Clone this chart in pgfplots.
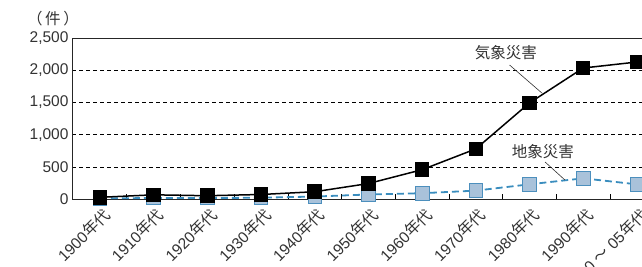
\documentclass[border=0pt]{standalone}
\usepackage{fontspec}
\setmainfont{Liberation Sans}
\newfontfamily\jp{Noto Sans CJK JP}
\usepackage{pgfplots}
\pgfplotsset{compat=1.18}
\definecolor{txt}{HTML}{333333}
\definecolor{bline}{HTML}{3A8DBE}
\definecolor{bfill}{HTML}{A9C2DA}
\definecolor{bedge}{HTML}{4C8FBD}
\begin{document}
\begin{tikzpicture}[font=\fontsize{15.5}{18}\selectfont]
\useasboundingbox (0,0) rectangle (642pt,266pt);
\clip (0,0) rectangle (642pt,266pt);
\begin{axis}[
  at={(72pt,67pt)}, anchor=south west,
  scale only axis, width=592.8pt, height=161pt,
  xmin=-0.52, xmax=10.52, ymin=0, ymax=2500,
  xtick={0,...,10},
  xticklabels={1900{\jp 年代},1910{\jp 年代},1920{\jp 年代},1930{\jp 年代},1940{\jp 年代},1950{\jp 年代},1960{\jp 年代},1970{\jp 年代},1980{\jp 年代},1990{\jp 年代},2000 {\jp ～} 05{\jp 年代}},
  xticklabel style={rotate=45, anchor=east, text=txt, inner sep=1pt, yshift=-14pt, xshift=-3pt},
  major x tick style={draw=none},
  extra x ticks={0.5,1.5,...,10.5},
  extra x tick labels={},
  extra x tick style={major tick length=5pt, tick align=inside, major x tick style={draw=black, line width=0.6pt}},
  xtick pos=bottom,
  ytick={0,500,...,2500},
  ytick style={draw=none},
  yticklabel style={text=txt, /pgf/number format/1000 sep={,}},
  /pgf/number format/assume math mode=true,
  ymajorgrids, grid style={black, dashed, line width=0.6pt, dash pattern=on 4pt off 3pt},
  axis line style={black!85, line width=0.9pt},
  clip=false,
]
\addplot[bline, line width=1.8pt, dash pattern=on 7pt off 4pt, mark=square*, mark size=6.8pt,
  mark options={solid, fill=bfill, draw=bedge, line width=0.8pt}]
  coordinates {(0,10) (1,15) (2,15) (3,20) (4,38) (5,70) (6,90) (7,130) (8,228) (9,321) (10,228)};
\addplot[black, line width=1.5pt, mark=square*, mark size=6.5pt, mark options={solid, fill=black}]
  coordinates {(0,26) (1,65) (2,51) (3,70) (4,113) (5,240) (6,455) (7,778) (8,1492) (9,2034) (10,2127)};
\node[text=txt, font=\jp\fontsize{15.5}{18}\selectfont] at (axis cs:7.56,2267) {気象災害};
\draw[black!80, line width=0.6pt] (axis cs:7.63,2080) -- (axis cs:8.23,1646);
\node[text=txt, font=\jp\fontsize{15.5}{18}\selectfont] at (axis cs:8.25,730) {地象災害};
\draw[black!80, line width=0.6pt] (axis cs:8.29,575) -- (axis cs:8.66,295);
\end{axis}
\node[text=txt, font=\jp\fontsize{15.5}{18}\selectfont] at (53pt,247pt) {（\,件\,）};
\end{tikzpicture}
\end{document}
